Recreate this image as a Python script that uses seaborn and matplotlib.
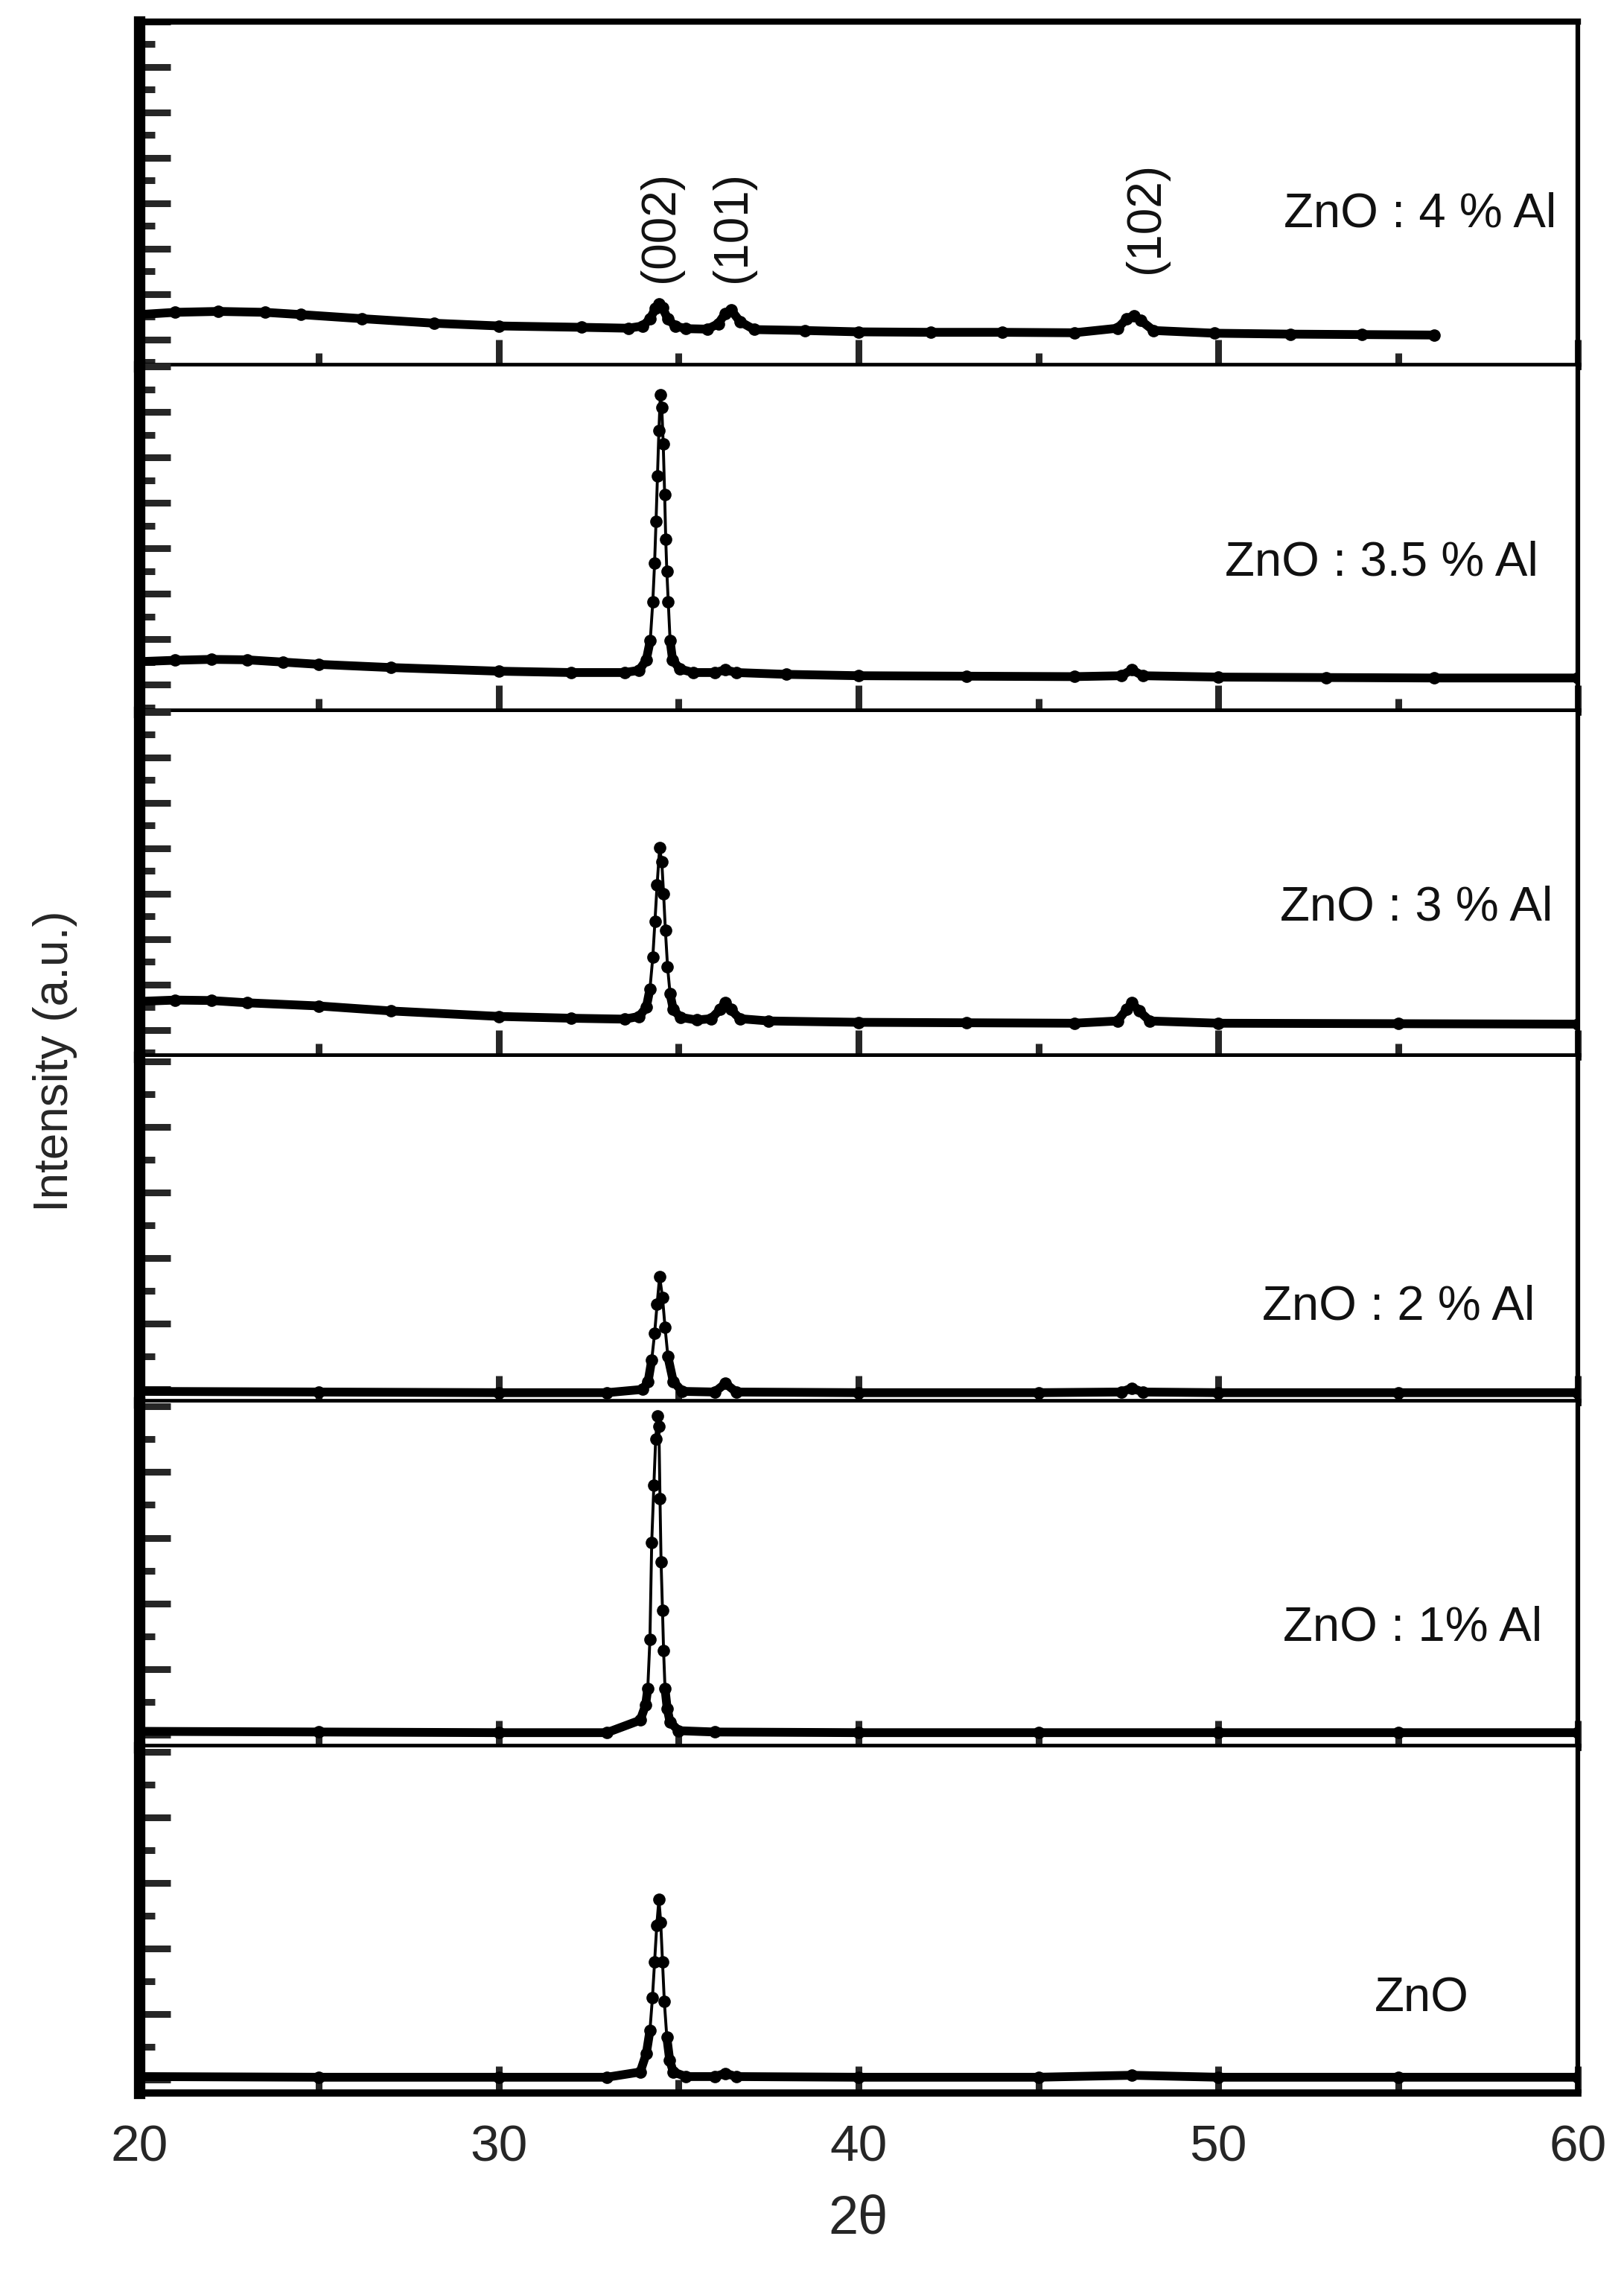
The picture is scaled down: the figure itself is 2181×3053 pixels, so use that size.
import numpy as np
import seaborn as sns
import matplotlib.pyplot as plt
from matplotlib.ticker import MultipleLocator

sns.set_style('ticks')
plt.rcParams['font.family'] = ['Liberation Sans', 'DejaVu Sans']

# sample labels, top to bottom
labels = ['ZnO : 4 % Al', 'ZnO : 3.5 % Al', 'ZnO : 3 % Al', 'ZnO : 2 % Al', 'ZnO : 1% Al', 'ZnO']
peaks = ['(002)', '(101)', '(102)']
peak_pos = [34.5, 36.5, 48.0]

# 2theta / intensity (a.u.)
x_4 = [20.0, 21.0, 22.2, 23.5, 24.5, 26.2, 28.2, 30.0, 32.3, 33.6, 34.0, 34.2, 34.35, 34.45, 34.55, 34.7, 34.9,
       35.2, 35.8, 36.1, 36.3, 36.45, 36.7, 37.1, 38.5, 40.0, 42.0, 44.0, 46.0, 47.2, 47.45, 47.65, 47.85, 48.2,
       49.9, 52.0, 54.0, 56.0]
y_4 = [0.55, 0.60, 0.62, 0.60, 0.55, 0.46, 0.36, 0.30, 0.27, 0.25, 0.30, 0.45, 0.68, 0.79, 0.70, 0.45, 0.30,
       0.24, 0.23, 0.35, 0.58, 0.66, 0.40, 0.22, 0.20, 0.17, 0.16, 0.16, 0.15, 0.25, 0.45, 0.53, 0.42, 0.20,
       0.14, 0.12, 0.11, 0.10]

x_35 = [20.0, 21.0, 22.0, 23.0, 24.0, 25.0, 27.0, 30.0, 32.0, 33.5, 33.9, 34.1, 34.21, 34.28, 34.33, 34.37,
        34.41, 34.45, 34.49, 34.53, 34.57, 34.61, 34.64, 34.67, 34.71, 34.76, 34.83, 35.03, 35.4, 36.0, 36.3,
        36.6, 38.0, 40.0, 43.0, 46.0, 47.3, 47.6, 47.9, 50.0, 53.0, 56.0, 60.0]
y_35 = [0.51, 0.54, 0.56, 0.55, 0.50, 0.45, 0.38, 0.30, 0.27, 0.27, 0.32, 0.55, 0.98, 1.83, 2.68, 3.60,
        4.60, 5.60, 6.39, 6.10, 5.30, 4.18, 3.20, 2.50, 1.83, 0.98, 0.55, 0.35, 0.27, 0.27, 0.33,
        0.27, 0.23, 0.20, 0.19, 0.18, 0.20, 0.33, 0.20, 0.17, 0.16, 0.15, 0.15]

x_3 = [20.0, 21.0, 22.0, 23.0, 25.0, 27.0, 30.0, 32.0, 33.5, 33.9, 34.1, 34.2, 34.28, 34.34, 34.4, 34.47,
       34.53, 34.58, 34.63, 34.69, 34.76, 34.85, 35.05, 35.5, 35.9, 36.15, 36.3, 36.45, 36.7, 37.5, 40.0,
       43.0, 46.0, 47.2, 47.45, 47.6, 47.8, 48.1, 50.0, 55.0, 60.0]
y_3 = [0.63, 0.66, 0.65, 0.60, 0.53, 0.42, 0.30, 0.26, 0.24, 0.30, 0.50, 0.90, 1.60, 2.40, 3.20, 4.01,
       3.70, 3.00, 2.20, 1.40, 0.80, 0.45, 0.28, 0.22, 0.25, 0.45, 0.61, 0.45, 0.25, 0.20, 0.17,
       0.16, 0.15, 0.20, 0.45, 0.60, 0.42, 0.20, 0.15, 0.14, 0.13]

x_2 = [20.0, 25.0, 30.0, 33.0, 34.0, 34.15, 34.25, 34.33, 34.4, 34.47, 34.55, 34.62, 34.7, 34.85, 35.1,
       36.0, 36.3, 36.6, 40.0, 45.0, 47.3, 47.6, 47.9, 50.0, 55.0, 60.0]
y_2 = [-0.03, -0.04, -0.05, -0.05, 0.0, 0.12, 0.45, 0.85, 1.30, 1.72, 1.40, 0.95, 0.50, 0.12, -0.03,
       -0.04, 0.09, -0.04, -0.05, -0.05, -0.04, 0.02, -0.04, -0.05, -0.05, -0.05]

x_1 = [20.0, 25.0, 30.0, 33.0, 33.93, 34.08, 34.14, 34.2, 34.25, 34.31, 34.36, 34.41, 34.45, 34.48, 34.51,
       34.55, 34.58, 34.62, 34.68, 34.76, 35.0, 36.0, 40.0, 45.0, 50.0, 55.0, 60.0]
y_1 = [0.05, 0.04, 0.03, 0.03, 0.22, 0.45, 0.70, 1.45, 2.93, 3.80, 4.50, 4.85, 4.70, 3.60, 2.63,
       1.89, 1.28, 0.70, 0.40, 0.19, 0.06, 0.04, 0.03, 0.03, 0.03, 0.03, 0.03]

x_0 = [20.0, 25.0, 30.0, 33.0, 33.93, 34.1, 34.2, 34.27, 34.33, 34.39, 34.45, 34.5, 34.55, 34.6, 34.67,
       34.75, 34.85, 35.2, 36.0, 36.3, 36.6, 40.0, 45.0, 47.6, 50.0, 55.0, 60.0]
y_0 = [0.05, 0.04, 0.04, 0.04, 0.12, 0.40, 0.75, 1.25, 1.80, 2.35, 2.75, 2.40, 1.80, 1.20, 0.65,
       0.30, 0.12, 0.05, 0.05, 0.10, 0.05, 0.04, 0.04, 0.07, 0.04, 0.04, 0.04]

series = [(x_4, y_4), (x_35, y_35), (x_3, y_3), (x_2, y_2), (x_1, y_1), (x_0, y_0)]

# layout of the panels
ylims = [(-0.6, 7.0)] * 3 + [(-0.2, 5.06)] * 3
label_pos = [(59.4, 0.443, 'right'), (58.9, 0.433, 'right'), (59.3, 0.433, 'right'),
             (58.8, 0.278, 'right'), (59.0, 0.347, 'right'), (55.65, 0.273, 'center')]

fig, axes = plt.subplots(6, 1, figsize=(21.81, 30.53), dpi=100, sharex=True,
                         gridspec_kw=dict(hspace=0))
fig.subplots_adjust(left=0.0857, right=0.9716, top=0.9905, bottom=0.0796)

for i, ax in enumerate(axes):
    x = np.array(series[i][0])
    y = np.array(series[i][1])
    # thick trace where the dots are dense (background), thin line + dots on the big peak
    thick = np.where(y > np.median(y) + 0.8, np.nan, y)
    ax.plot(x, thick, color='black', lw=8.5, solid_capstyle='butt', zorder=2)
    sns.lineplot(x=x, y=y, ax=ax, color='black', lw=2.8, marker='o', markersize=12,
                 markeredgewidth=0, sort=False, estimator=None, zorder=3)

    ax.set_xlim(20, 60)
    ax.set_ylim(*ylims[i])
    ax.set_xlabel('')
    ax.set_ylabel('')

    ax.xaxis.set_major_locator(MultipleLocator(10))
    ax.xaxis.set_minor_locator(MultipleLocator(5))
    ax.yaxis.set_major_locator(MultipleLocator(1))
    ax.yaxis.set_minor_locator(MultipleLocator(0.5))
    ax.tick_params(axis='y', which='major', direction='in', length=30, width=6.5, left=True,
                   right=False, labelleft=False)
    ax.tick_params(axis='y', which='minor', direction='in', length=15, width=6.5, left=True,
                   right=False)
    ax.tick_params(axis='x', which='major', direction='in', length=26, width=6.5, bottom=True,
                   top=False, labelbottom=(i == 5), labelsize=50, pad=30)
    ax.tick_params(axis='x', which='minor', direction='in', length=13, width=6.5, bottom=True,
                   top=False)

    ax.spines['left'].set_linewidth(11)
    ax.spines['right'].set_linewidth(4.5)
    ax.spines['bottom'].set_linewidth(7)
    ax.spines['top'].set_linewidth(6)
    ax.spines['top'].set_visible(i == 0)
    for s in ax.spines.values():
        s.set_color('black')

    lx, ly, ha = label_pos[i]
    ax.text(lx, ly, labels[i], transform=ax.get_xaxis_transform(), ha=ha, va='center',
            fontsize=47, color='#111111')

# Miller indices on the top pattern
for name, pos, yb in zip(peaks, peak_pos, [0.245, 0.245, 0.27]):
    axes[0].text(pos, yb, name, transform=axes[0].get_xaxis_transform(), rotation=90,
                 ha='center', va='bottom', fontsize=46, color='#111111')

axes[-1].set_xlabel('2θ', fontsize=52, labelpad=22)
fig.text(74 / 2181, 1 - 1425 / 3053, 'Intensity (a.u.)', rotation=90, ha='center',
         va='center', fontsize=46)

plt.savefig('out.png', dpi=100)
